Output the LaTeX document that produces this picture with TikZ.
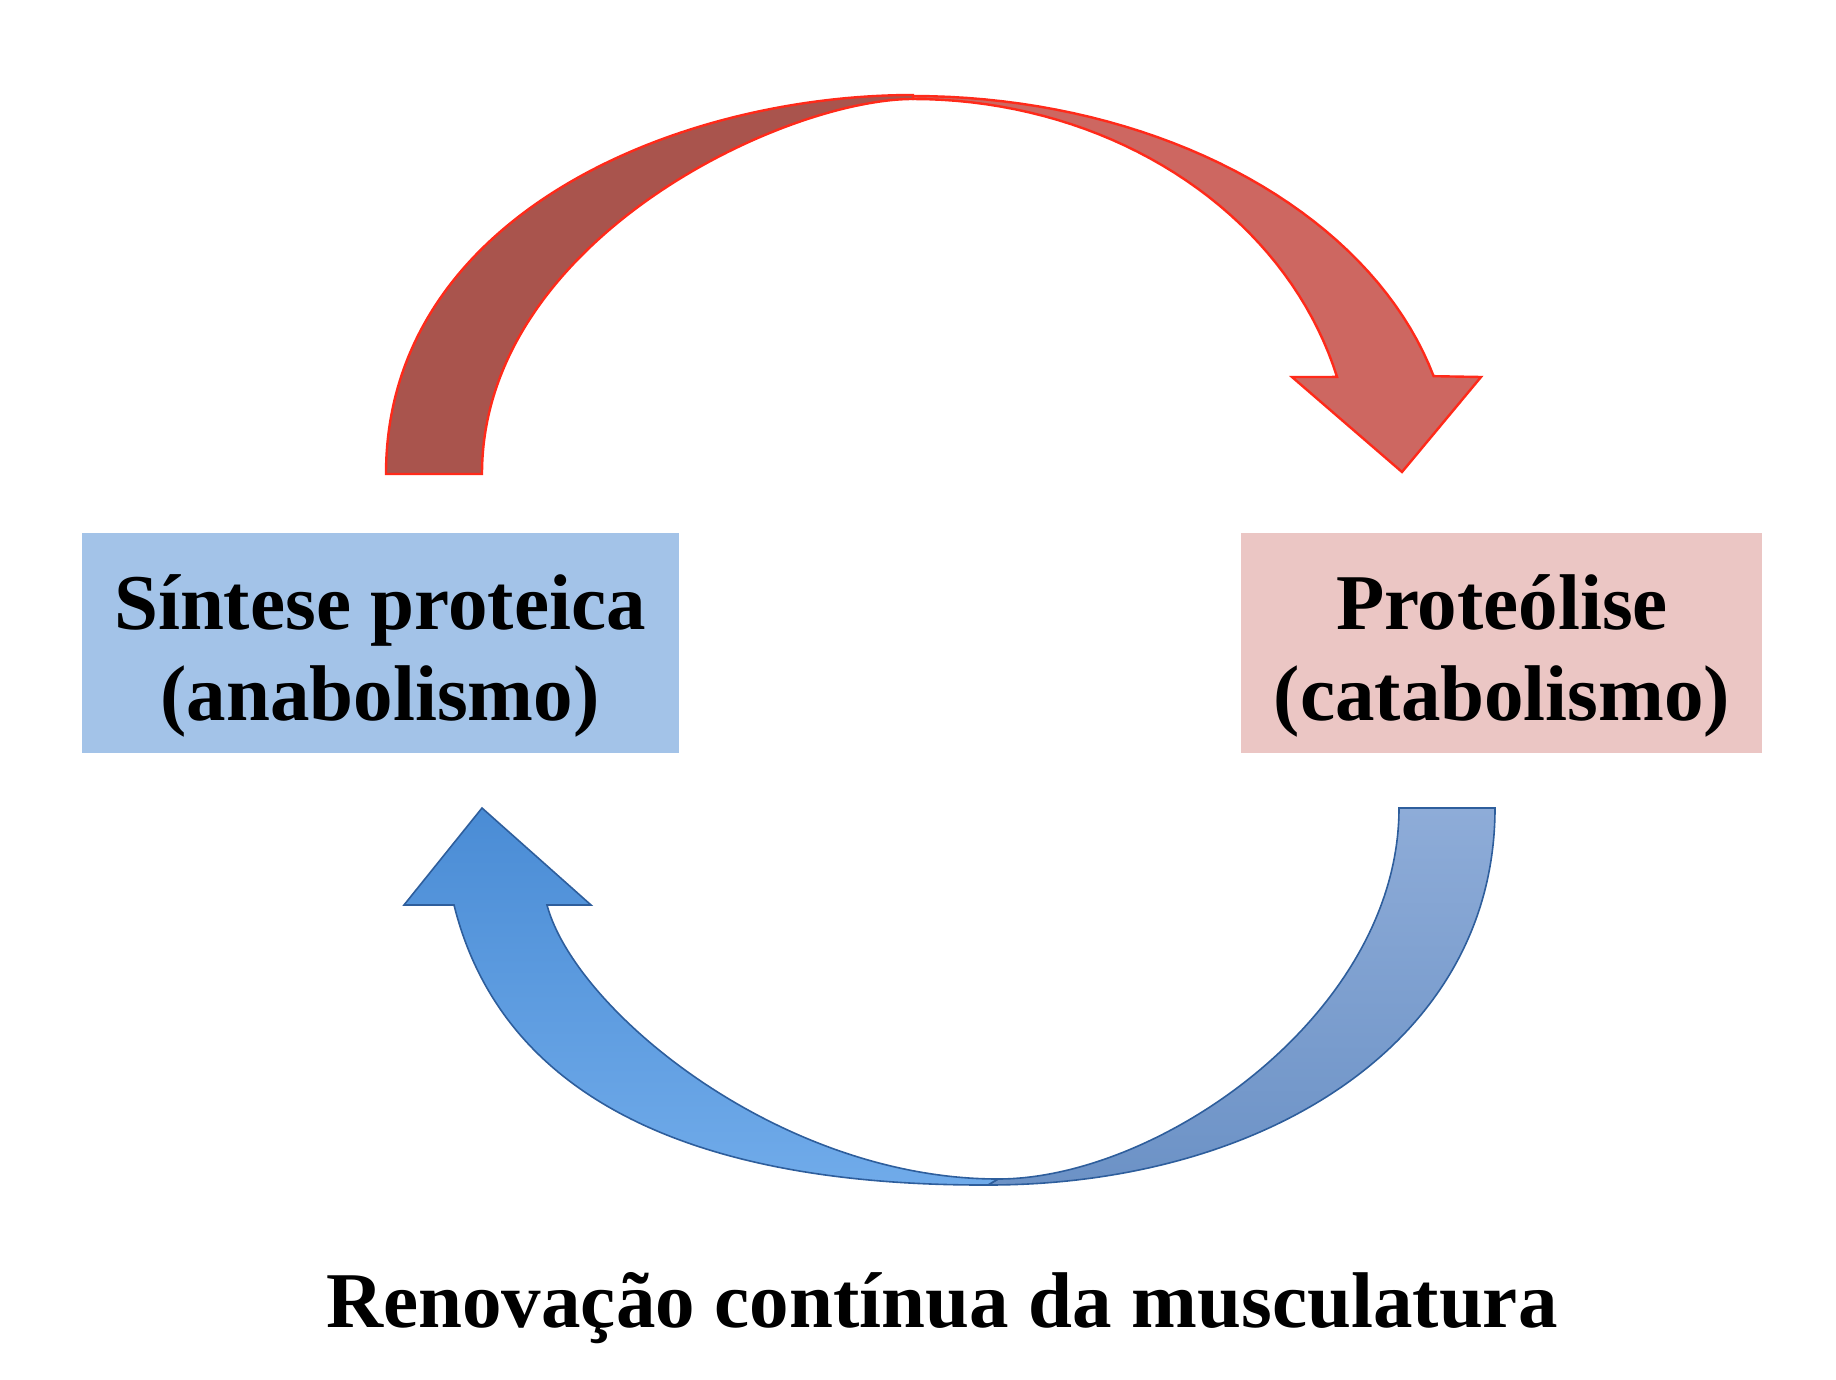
\documentclass[tikz,border=0pt]{standalone}
\usepackage{fontspec}
\setmainfont{Liberation Serif}
\definecolor{boxblue}{HTML}{A3C3E8}
\definecolor{boxpink}{HTML}{EBC6C4}
\definecolor{redL}{HTML}{A9544D}
\definecolor{redR}{HTML}{CD6761}
\definecolor{redline}{HTML}{FF2A1A}
\definecolor{blueLtop}{HTML}{4A8CD5}
\definecolor{blueLbot}{HTML}{70ABEA}
\definecolor{blueRtop}{HTML}{8EACD8}
\definecolor{blueRbot}{HTML}{6C92C6}
\definecolor{blueline}{HTML}{2E5E9C}
\begin{document}
\begin{tikzpicture}[x=0.5pt,y=-0.5pt,
  boxnode/.style={rectangle,draw=none,inner sep=0pt,outer sep=0pt,minimum height=110pt},
  lbl/.style={inner sep=0pt,outer sep=0pt,anchor=base,text=black,font=\fontsize{39.5}{44}\selectfont\bfseries},
  redarrow/.style={draw=redline,line width=1.2pt,line join=miter},
  bluearrow/.style={draw=blueline,line width=0.8pt,line join=miter}]
\useasboundingbox (0,0) rectangle (1836,1380);
% boxes
\node[boxnode,fill=boxblue,minimum width=298.5pt] (syn) at (380.5,643) {};
\node[boxnode,fill=boxpink,minimum width=260.5pt] (pro) at (1501.5,643) {};
\node[lbl] (syn1) at (380,629) {Síntese proteica};
\node[lbl] (syn2) at (380,720) {(anabolismo)};
\node[lbl] (pro1) at (1502,629) {Proteólise};
\node[lbl] (pro2) at (1502,720) {(catabolismo)};
% red arrow (top)
\filldraw[redarrow,fill=redR]
  plot[domain=90:15,samples=40,variable=\t] ({913+539*cos(\t)},{474-378*sin(\t)})
  -- (1481,377) -- (1402,472) -- (1292,377)
  -- plot[domain=15:90,samples=40,variable=\t] ({913+439*cos(\t)},{474-375*sin(\t)})
  -- cycle;
\filldraw[redarrow,fill=redL]
  (386,474) .. controls (386,216) and (676,95) .. (913,95)
  -- (913,99) .. controls (783,99) and (482,241) .. (482,474)
  -- cycle;
% blue arrow (bottom)
\path[bluearrow,top color=blueRtop,bottom color=blueRbot]
  (1495,808) .. controls (1495,1042) and (1265,1185) .. (988,1185)
  -- (998,1179) .. controls (1160,1179) and (1399,1013) .. (1399,808)
  -- cycle;
\path[bluearrow,top color=blueLtop,bottom color=blueLbot]
  (404,905) -- (454,905) .. controls (500,1090) and (680,1186) .. (988,1185)
  -- (998,1179) .. controls (780,1179) and (575,1010) .. (547,905)
  -- (591,905) -- (482,808) -- cycle;
% caption
\node[lbl] (title) at (942,1327) {Renovação contínua da musculatura};
\end{tikzpicture}
\end{document}
